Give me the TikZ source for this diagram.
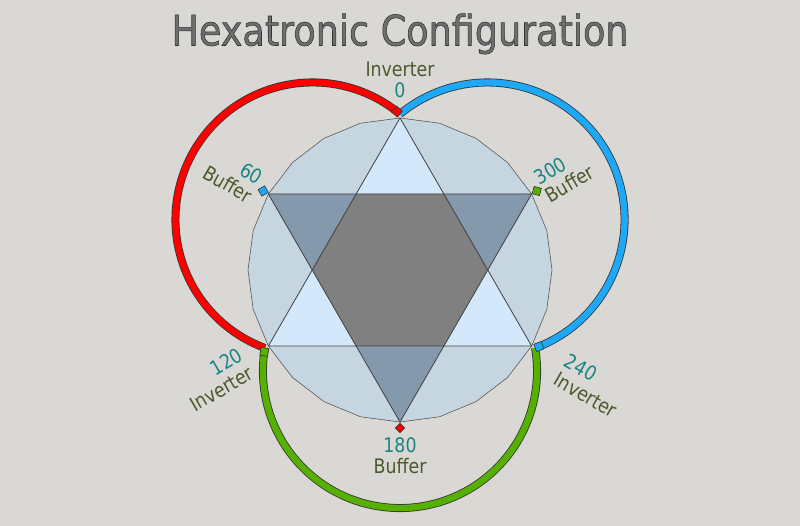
\documentclass[tikz,border=0pt]{standalone}
\usepackage{fontspec}
\setmainfont{DejaVu Sans}[FakeStretch=0.87]
\newfontfamily\titlefont{DejaVu Sans}[FakeStretch=0.87, FakeBold=1.3]
\usetikzlibrary{calc}
\definecolor{bg}{HTML}{DAD8D4}
\definecolor{polyc}{HTML}{C6D6E1}
\definecolor{lightc}{HTML}{D3E9FB}
\definecolor{darkc}{HTML}{8599AD}
\definecolor{hexc}{HTML}{808080}
\definecolor{redc}{HTML}{FF0000}
\definecolor{bluec}{HTML}{1EA8F8}
\definecolor{greenc}{HTML}{55B000}
\definecolor{numc}{HTML}{1A8585}
\definecolor{wordc}{HTML}{4A5A2C}
\definecolor{titlec}{HTML}{6E6E6E}
\tikzset{
  lbl/.style={inner sep=0pt, font=\fontsize{20}{21}\selectfont},
  ttl/.style={inner sep=0pt, anchor=base, font=\titlefont\fontsize{42}{44}\selectfont},
  arcout/.style={line width=8pt, draw=black!80},
  arcin/.style={line width=6.4pt},
  mk/.style={rectangle, draw=black!80, line width=0.6pt, minimum size=7.5pt, inner sep=0pt},
  tri/.style={draw=black!75, line width=0.8pt},
}
\begin{document}
\begin{tikzpicture}[x=1pt,y=-1pt]
\useasboundingbox (0,0) rectangle (800,526);
\fill[bg] (0,0) rectangle (800,526);
% key points
\coordinate (O) at (400,270);
\coordinate (V0) at (400,118);
\coordinate (V60) at (268.36,194);
\coordinate (V120) at (268.36,346);
\coordinate (V180) at (400,422);
\coordinate (V240) at (531.64,346);
\coordinate (V300) at (531.64,194);
\coordinate (I30) at (356.12,194);
\coordinate (I90) at (312.24,270);
\coordinate (I150) at (356.12,346);
\coordinate (I210) at (443.88,346);
\coordinate (I270) at (487.76,270);
\coordinate (I330) at (443.88,194);
\coordinate (Cr) at (312.5,219.5);
\coordinate (Cb) at (487.5,219.5);
\coordinate (Cg) at (400,371);
% 24-gon
\begin{scope}[shift={(400,270)}]
\filldraw[fill=polyc, draw=black!65, line width=0.6pt] (-90:152) \foreach \i in {1,...,23}{ -- (-90+15*\i:152) } -- cycle;
\end{scope}
% star regions
\fill[lightc] (V0) -- (I30) -- (I330) -- cycle;
\fill[lightc] (V120) -- (I90) -- (I150) -- cycle;
\fill[lightc] (V240) -- (I210) -- (I270) -- cycle;
\fill[darkc] (V60) -- (I30) -- (I90) -- cycle;
\fill[darkc] (V300) -- (I330) -- (I270) -- cycle;
\fill[darkc] (V180) -- (I150) -- (I210) -- cycle;
\fill[hexc] (I30) -- (I90) -- (I150) -- (I210) -- (I270) -- (I330) -- cycle;
\draw[tri] (V0) -- (V120) -- (V240) -- cycle;
\draw[tri] (V180) -- (V60) -- (V300) -- cycle;
% arcs
\draw[arcout] (Cr) ++(-50.3:137.05) arc[start angle=-50.3, end angle=-249.7, radius=137.05];
\draw[arcin, redc] (Cr) ++(-50.3:137.05) arc[start angle=-50.3, end angle=-249.7, radius=137.05];
\draw[arcout] (Cg) ++(189.7:137.05) arc[start angle=189.7, end angle=-9.7, radius=137.05];
\draw[arcin, greenc] (Cg) ++(189.7:137.05) arc[start angle=189.7, end angle=-9.7, radius=137.05];
\draw[arcout] (Cb) ++(69.7:137.05) arc[start angle=69.7, end angle=-129.7, radius=137.05];
\draw[arcin, bluec] (Cb) ++(69.7:137.05) arc[start angle=69.7, end angle=-129.7, radius=137.05];
% inverter squares at arc starts
\node[mk, fill=redc, rotate=50.3, minimum size=7.8pt] (s0) at ($(Cr)+(-52:137.05)$) {};
\node[mk, fill=greenc, rotate=-9.7, minimum size=7.8pt] (s120) at ($(Cg)+(188:137.05)$) {};
\node[mk, fill=bluec, rotate=20.3, minimum size=7.8pt] (s240) at ($(Cb)+(68:137.05)$) {};
% buffer markers
\node[mk, fill=bluec, rotate=30] (m60) at (263.2,191) {};
\node[mk, fill=greenc, rotate=-15] (m300) at (536.8,191) {};
\node[mk, fill=redc, rotate=45, minimum size=6.5pt] (m180) at (400,428) {};
% labels
\node[lbl, align=center] (l0) at (400,79.5) {\textcolor{wordc}{Inverter}\\\textcolor{numc}{0}};
\node[lbl, align=center] (l180) at (400,456) {\textcolor{numc}{180}\\\textcolor{wordc}{Buffer}};
\node[lbl, align=right, rotate=-30] (l60) at (233,175) {\textcolor{numc}{60}\\\textcolor{wordc}{Buffer}};
\node[lbl, align=right, rotate=30] (l120) at (216.3,379.8) {\textcolor{numc}{120}\\\textcolor{wordc}{Inverter}};
\node[lbl, align=left, rotate=-30] (l240) at (591.2,385.8) {\textcolor{numc}{240}\\\textcolor{wordc}{Inverter}};
\node[lbl, align=left, rotate=30] (l300) at (564.3,174.8) {\textcolor{numc}{300}\\\textcolor{wordc}{Buffer}};
% title: grey fill, dark stroke
\node[ttl] (title) at (400,45.5) {\special{pdf:bcolor [0.43 0.43 0.43] [0.2 0.2 0.2]}Hexatronic Configuration\special{pdf:ecolor}};
\end{tikzpicture}
\end{document}
